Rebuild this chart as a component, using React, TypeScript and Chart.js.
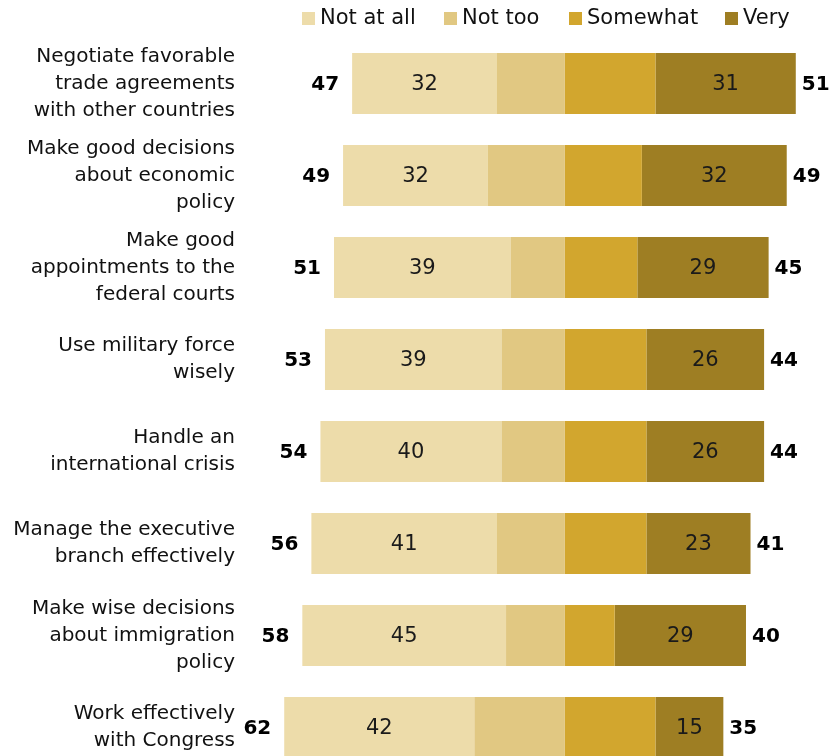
import React, { useEffect, useRef } from 'react';
import { Chart, registerables } from 'chart.js';
Chart.register(...registerables);

const categories: string[][] = [
  ['Negotiate favorable', 'trade agreements', 'with other countries'],
  ['Make good decisions', 'about economic', 'policy'],
  ['Make good', 'appointments to the', 'federal courts'],
  ['Use military force', 'wisely'],
  ['Handle an', 'international crisis'],
  ['Manage the executive', 'branch effectively'],
  ['Make wise decisions', 'about immigration', 'policy'],
  ['Work effectively', 'with Congress'],
];
const seriesNames = ['Not at all', 'Not too', 'Somewhat', 'Very'];
const notAtAll = [32, 32, 39, 39, 40, 41, 45, 42];
const notToo = [15, 17, 12, 14, 14, 15, 13, 20];
const somewhat = [20, 17, 16, 18, 18, 18, 11, 20];
const very = [31, 32, 29, 26, 26, 23, 29, 15];
const totalNotConfident = [47, 49, 51, 53, 54, 56, 58, 62];
const totalConfident = [51, 49, 45, 44, 44, 41, 40, 35];

const COLORS = ['#EDDCAA', '#E1C882', '#D2A62E', '#9E7E23'];
const FONT = "'DejaVu Sans', sans-serif";
const LEGEND_X = [302, 444, 569, 725];

const labelPlugin = {
  id: 'labelPlugin',
  afterDatasetsDraw(chart: any) {
    const ctx = chart.ctx;
    ctx.save();
    const mNotAtAll = chart.getDatasetMeta(1);
    const mVery = chart.getDatasetMeta(3);
    ctx.textBaseline = 'middle';
    for (let i = 0; i < categories.length; i++) {
      const a = mNotAtAll.data[i];
      const v = mVery.data[i];
      ctx.fillStyle = '#1a1a1a';
      ctx.font = `21px ${FONT}`;
      ctx.textAlign = 'center';
      ctx.fillText(String(notAtAll[i]), (a.x + a.base) / 2, a.y + 1);
      ctx.fillText(String(very[i]), (v.x + v.base) / 2, v.y + 1);
      ctx.fillStyle = '#000';
      ctx.font = `bold 20px ${FONT}`;
      ctx.textAlign = 'right';
      ctx.fillText(String(totalNotConfident[i]), Math.min(a.x, a.base) - 13, a.y + 1);
      ctx.textAlign = 'left';
      ctx.fillText(String(totalConfident[i]), Math.max(v.x, v.base) + 6, v.y + 1);
    }
    ctx.restore();
  },
};

const legendPlugin = {
  id: 'customLegend',
  afterDraw(chart: any) {
    const ctx = chart.ctx;
    ctx.save();
    ctx.font = `21px ${FONT}`;
    ctx.textBaseline = 'middle';
    ctx.textAlign = 'left';
    seriesNames.forEach((name, k) => {
      const x = LEGEND_X[k];
      ctx.fillStyle = COLORS[k];
      ctx.fillRect(x, 12, 13, 13);
      ctx.fillStyle = '#111';
      ctx.fillText(name, x + 18, 18.5);
    });
    ctx.restore();
  },
};

export default function App() {
  const ref = useRef<HTMLCanvasElement>(null);
  useEffect(() => {
    if (!ref.current) return;
    const chart = new Chart(ref.current, {
      type: 'bar',
      data: {
        labels: categories,
        datasets: [
          { label: 'Not too', data: notToo.map((v) => -v), backgroundColor: COLORS[1] },
          { label: 'Not at all', data: notAtAll.map((v) => -v), backgroundColor: COLORS[0] },
          { label: 'Somewhat', data: somewhat, backgroundColor: COLORS[2] },
          { label: 'Very', data: very, backgroundColor: COLORS[3] },
        ],
      },
      options: {
        indexAxis: 'y',
        responsive: true,
        maintainAspectRatio: false,
        animation: false,
        devicePixelRatio: 1,
        layout: { padding: { top: 37.5, bottom: 2.5, left: 0, right: 4 } },
        datasets: { bar: { barPercentage: 0.663, categoryPercentage: 1, borderWidth: 0 } },
        plugins: { legend: { display: false }, tooltip: { enabled: false } },
        scales: {
          x: { stacked: true, display: false, min: -70, max: 59 },
          y: {
            stacked: true,
            grid: { display: false, drawTicks: false },
            border: { display: false },
            ticks: {
              padding: 13,
              color: '#111',
              font: { family: FONT, size: 20, lineHeight: 1.35 },
            },
            afterFit: (scale: any) => {
              scale.width = 248;
              scale.paddingTop = 0;
              scale.paddingBottom = 0;
            },
          },
        },
      },
      plugins: [labelPlugin, legendPlugin],
    });
    return () => chart.destroy();
  }, []);
  return (
    <div style={{ position: 'absolute', left: 0, top: 0, width: 836, height: 776, background: '#fff' }}>
      <canvas ref={ref} style={{ display: 'block' }} />
    </div>
  );
}
